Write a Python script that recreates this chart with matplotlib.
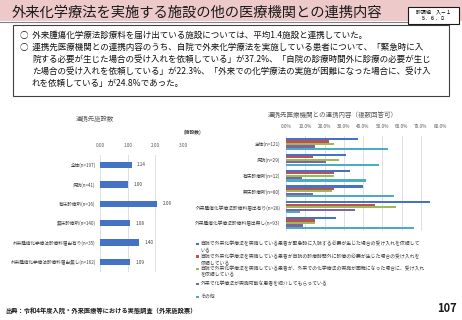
import matplotlib
matplotlib.use('Agg')
import matplotlib.pyplot as plt
from matplotlib.patches import Rectangle
from matplotlib.lines import Line2D

plt.rcParams['font.family'] = ['Noto Sans CJK JP', 'DejaVu Sans']

W, H = 462, 320

# ---------------- data ----------------
left_categories = ["全体(n=197)", "病院(n=41)", "有床診療所(n=16)", "無床診療所(n=140)",
                   "外来腫瘍化学療法診療料届出有り(n=35)", "外来腫瘍化学療法診療料届出無し(n=162)"]
left_values = [1.14, 1.00, 2.06, 1.08, 1.40, 1.09]
left_ticks = [0, 1, 2, 3]

right_categories = ["全体(n=121)", "病院(n=29)", "有床診療所(n=12)", "無床診療所(n=80)",
                    "外来腫瘍化学療法診療料届出有り(n=28)", "外来腫瘍化学療法診療料届出無し(n=93)"]
s_emergency = [37.2, 31.0, 33.3, 40.0, 75.0, 25.8]
s_offhours = [22.3, 13.8, 25.0, 25.0, 46.4, 15.1]
s_difficult = [24.8, 27.6, 25.0, 23.8, 57.1, 15.1]
s_referral = [14.9, 20.7, 8.3, 13.8, 35.7, 8.6]
s_other = [52.9, 48.3, 41.7, 56.3, 7.1, 66.7]
right_series = [s_emergency, s_offhours, s_difficult, s_referral, s_other]
right_ticks = [0, 10, 20, 30, 40, 50, 60, 70, 80]

series_labels = [
    "自院で外来化学療法を実施している患者が緊急時に入院する必要が生じた場合の受け入れを依頼して\nいる",
    "自院で外来化学療法を実施している患者が自院の診療時間外に診療の必要が生じた場合の受け入れを\n依頼している",
    "自院で外来化学療法を実施している患者が、外来での化学療法の実施が困難になった場合に、受け入れ\nを依頼している",
    "外来で化学療法が実施可能な患者を紹介してもらっている",
    "その他",
]
series_colors = ['#4472C4', '#C0504D', '#9BBB59', '#8064A2', '#4BACC6']

title = "外来化学療法を実施する施設の他の医療機関との連携内容"
body_lines = [
    "○  外来腫瘍化学療法診療料を届け出ている施設については、平均1.4施設と連携していた。",
    "○  連携先医療機関との連携内容のうち、自院で外来化学療法を実施している患者について、「緊急時に入",
    "院する必要が生じた場合の受け入れを依頼している」が37.2%、「自院の診療時間外に診療の必要が生じ",
    "た場合の受け入れを依頼している」が22.3%、「外来での化学療法の実施が困難になった場合に、受け入",
    "れを依頼している」が24.8%であった。",
]


def fx(x):
    return x / W


def fy(y):
    return 1 - y / H


fig = plt.figure(figsize=(W / 100, H / 100), dpi=100)
fig.patch.set_facecolor('white')

# header band
fig.patches.append(Rectangle((0, fy(21)), 1, 21 / H, transform=fig.transFigure,
                             facecolor='#EDC9CA', edgecolor='none', zorder=0))
fig.add_artist(Line2D([0, fx(408)], [fy(21.5), fy(21.5)], transform=fig.transFigure,
                      color='#7F7F7F', lw=0.8))
fig.text(fx(12), fy(13), title, fontsize=10.3, va='center', ha='left', color='#1A1A1A')

# top-right box
fig.patches.append(Rectangle((fx(408), fy(24)), 51 / W, 17 / H, transform=fig.transFigure,
                             facecolor='white', edgecolor='#1A1A1A', lw=0.8, zorder=2))
fig.text(fx(433), fy(11.5), "診調組　入－１", fontsize=3.6, ha='center', va='center', zorder=3)
fig.text(fx(433), fy(18.5), "５．６．８", fontsize=3.6, ha='center', va='center', zorder=3)

# body text box
fig.patches.append(Rectangle((fx(13), fy(96)), (449 - 13) / W, (96 - 25) / H,
                             transform=fig.transFigure, facecolor='white',
                             edgecolor='#404040', lw=0.8, zorder=1))
body_x = [20, 20, 32, 32, 32]
body_y = [35.5, 47, 59, 71, 83]
for x, y, t in zip(body_x, body_y, body_lines):
    fig.text(fx(x), fy(y), t, fontsize=6.15, ha='left', va='center', color='#111111', zorder=3)

# ---------------- left chart ----------------
ax1 = fig.add_axes([fx(100), fy(271.7), 83 / W, 116.4 / H])
ypos = list(range(len(left_categories)))
bars = ax1.barh(ypos, left_values, height=0.33, color='#4472C4', zorder=3)
ax1.set_xlim(0, 3)
ax1.set_ylim(len(left_categories) - 0.5, -0.5)
ax1.set_xticks(left_ticks)
ax1.set_xticklabels([f"{t:.2f}" for t in left_ticks])
ax1.set_yticks(ypos)
ax1.set_yticklabels(left_categories)
ax1.xaxis.tick_top()
ax1.tick_params(axis='x', length=0, labelsize=3.4, labelcolor='#595959', pad=5)
ax1.tick_params(axis='y', length=0, labelsize=3.3, labelcolor='#404040', pad=3)
ax1.grid(axis='x', color='#D9D9D9', lw=0.6, zorder=0)
for s in ax1.spines.values():
    s.set_visible(False)
for b, v in zip(bars, left_values):
    ax1.annotate(f"{v:.2f}", (b.get_width(), b.get_y() + b.get_height() / 2),
                 xytext=(4, 0), textcoords='offset points', fontsize=3.4,
                 va='center', ha='left', color='#404040')
fig.text(fx(95), fy(119), "連携先施設数", fontsize=4.6, ha='center', va='center', color='#595959')
fig.text(fx(192), fy(132), "(施設数)", fontsize=3.4, ha='center', va='center',
         color='#404040', fontweight='bold')

# ---------------- right chart ----------------
ax2 = fig.add_axes([fx(286), fy(230.9), 154 / W, 94.8 / H])
ypos2 = list(range(len(right_categories)))
n = len(right_series)
step = 0.155
for i, (vals, col) in enumerate(zip(right_series, series_colors)):
    off = (i - (n - 1) / 2) * step
    ax2.barh([p + off for p in ypos2], vals, height=0.135, color=col, zorder=3)
ax2.set_xlim(0, 80)
ax2.set_ylim(len(right_categories) - 0.5, -0.5)
ax2.set_xticks(right_ticks)
ax2.set_xticklabels([f"{t:.1f}%" for t in right_ticks])
ax2.set_yticks(ypos2)
ax2.set_yticklabels(right_categories)
ax2.xaxis.tick_top()
ax2.tick_params(axis='x', length=0, labelsize=3.4, labelcolor='#595959', pad=5)
ax2.tick_params(axis='y', length=0, labelsize=3.4, labelcolor='#404040', pad=4)
ax2.grid(axis='x', color='#D9D9D9', lw=0.6, zorder=0)
for s in ax2.spines.values():
    s.set_visible(False)
fig.text(fx(268), fy(115), "連携先医療機関との連携内容（複数回答可）", fontsize=4.7,
         ha='left', va='center', color='#595959')

# legend (manual, Excel-style)
leg_y = [244, 256.5, 269, 284, 297]
for lab, col, y in zip(series_labels, series_colors, leg_y):
    fig.patches.append(Rectangle((fx(196), fy(y + 1.3)), 2.6 / W, 2.6 / H,
                                 transform=fig.transFigure, facecolor=col,
                                 edgecolor='none', zorder=3))
    fig.text(fx(200.5), fy(y - 3), lab, fontsize=3.5, ha='left', va='top',
             color='#404040', linespacing=1.25, zorder=3)

# footer
fig.text(fx(5), fy(310), "出典：令和4年度入院・外来医療等における実態調査（外来施設票）",
         fontsize=4.5, ha='left', va='center', color='#1A1A1A', fontweight='bold')
fig.text(fx(457), fy(308), "107", fontsize=8, ha='right', va='center',
         color='#1A1A1A', fontweight='bold')

fig.savefig('out.png', dpi=100)
